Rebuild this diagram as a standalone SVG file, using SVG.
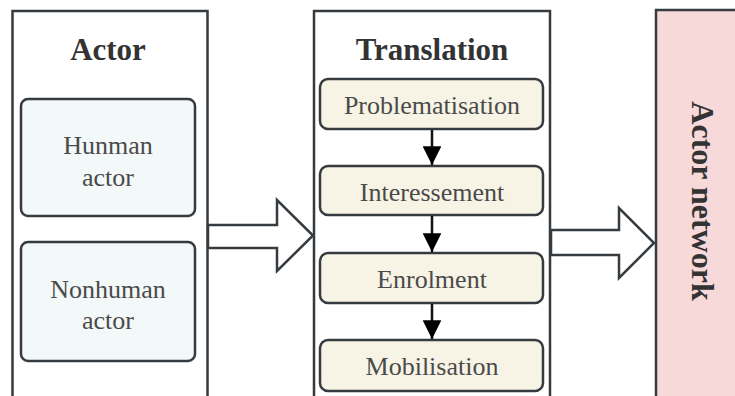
<svg xmlns="http://www.w3.org/2000/svg" width="735" height="396" viewBox="0 0 735 396">
<style>
.outer{fill:#ffffff;stroke:#363b40;stroke-width:2.5}
.pink{fill:#f8d9da;stroke:#363b40;stroke-width:2.5}
.ab{fill:#f3f8f8;stroke:#363b40;stroke-width:2.5}
.tb{fill:#f7f4e6;stroke:#363b40;stroke-width:2.5}
.title{font-family:"Liberation Serif",serif;font-weight:bold;font-size:31px;fill:#333;text-anchor:middle}
.lbl{font-family:"Liberation Serif",serif;font-size:26px;fill:#4a4a4a;text-anchor:middle}
.big{fill:#ffffff;stroke:#363b40;stroke-width:2.5;stroke-linejoin:miter}
.vline{stroke:#111;stroke-width:2.5;fill:none}
</style>
<defs>
<marker id="ah" viewBox="0 0 10 10" refX="10" refY="5" markerWidth="9" markerHeight="7.5" markerUnits="strokeWidth" orient="auto">
<path d="M0,0 L10,5 L0,10 Z" fill="#000"/>
</marker>
</defs>
<g id="actor">
<rect class="outer" x="12.5" y="11" width="195" height="400"/>
<text class="title" x="108" y="60">Actor</text>
</g>
<g id="human">
<rect class="ab" x="21" y="99" width="174" height="117" rx="7"/>
<text class="lbl" x="108" y="154">Hunman</text>
<text class="lbl" x="108" y="186">actor</text>
</g>
<g id="nonhuman">
<rect class="ab" x="21" y="242" width="174" height="119" rx="7"/>
<text class="lbl" x="108" y="298">Nonhuman</text>
<text class="lbl" x="108" y="329">actor</text>
</g>
<g id="translation">
<rect class="outer" x="314" y="11" width="236" height="400"/>
<text class="title" x="432" y="60">Translation</text>
</g>
<g id="problematisation">
<rect class="tb" x="320" y="79" width="223" height="50" rx="8"/>
<text class="lbl" x="432" y="114">Problematisation</text>
</g>
<g id="interessement">
<rect class="tb" x="320" y="166" width="223" height="49" rx="8"/>
<text class="lbl" x="432" y="201">Interessement</text>
</g>
<g id="enrolment">
<rect class="tb" x="320" y="253" width="223" height="50" rx="8"/>
<text class="lbl" x="432" y="288">Enrolment</text>
</g>
<g id="mobilisation">
<rect class="tb" x="320" y="340" width="223" height="51" rx="8"/>
<text class="lbl" x="432" y="375">Mobilisation</text>
</g>
<g id="actor-network">
<rect class="pink" x="656" y="10" width="90" height="400"/>
<text class="title" transform="translate(692,201) rotate(90)" x="0" y="0" style="font-size:32px">Actor network</text>
</g>
<g id="connectors">
<path class="big" d="M208,225 L277,225 L277,200 L313,235.5 L277,271 L277,248 L208,248 Z"/>
<path class="big" d="M551,230 L619,230 L619,208 L654,243 L619,278 L619,255 L551,255 Z"/>
<line class="vline" x1="432" y1="130" x2="432" y2="165" marker-end="url(#ah)"/>
<line class="vline" x1="432" y1="216" x2="432" y2="252" marker-end="url(#ah)"/>
<line class="vline" x1="432" y1="304" x2="432" y2="339" marker-end="url(#ah)"/>
</g>
</svg>
